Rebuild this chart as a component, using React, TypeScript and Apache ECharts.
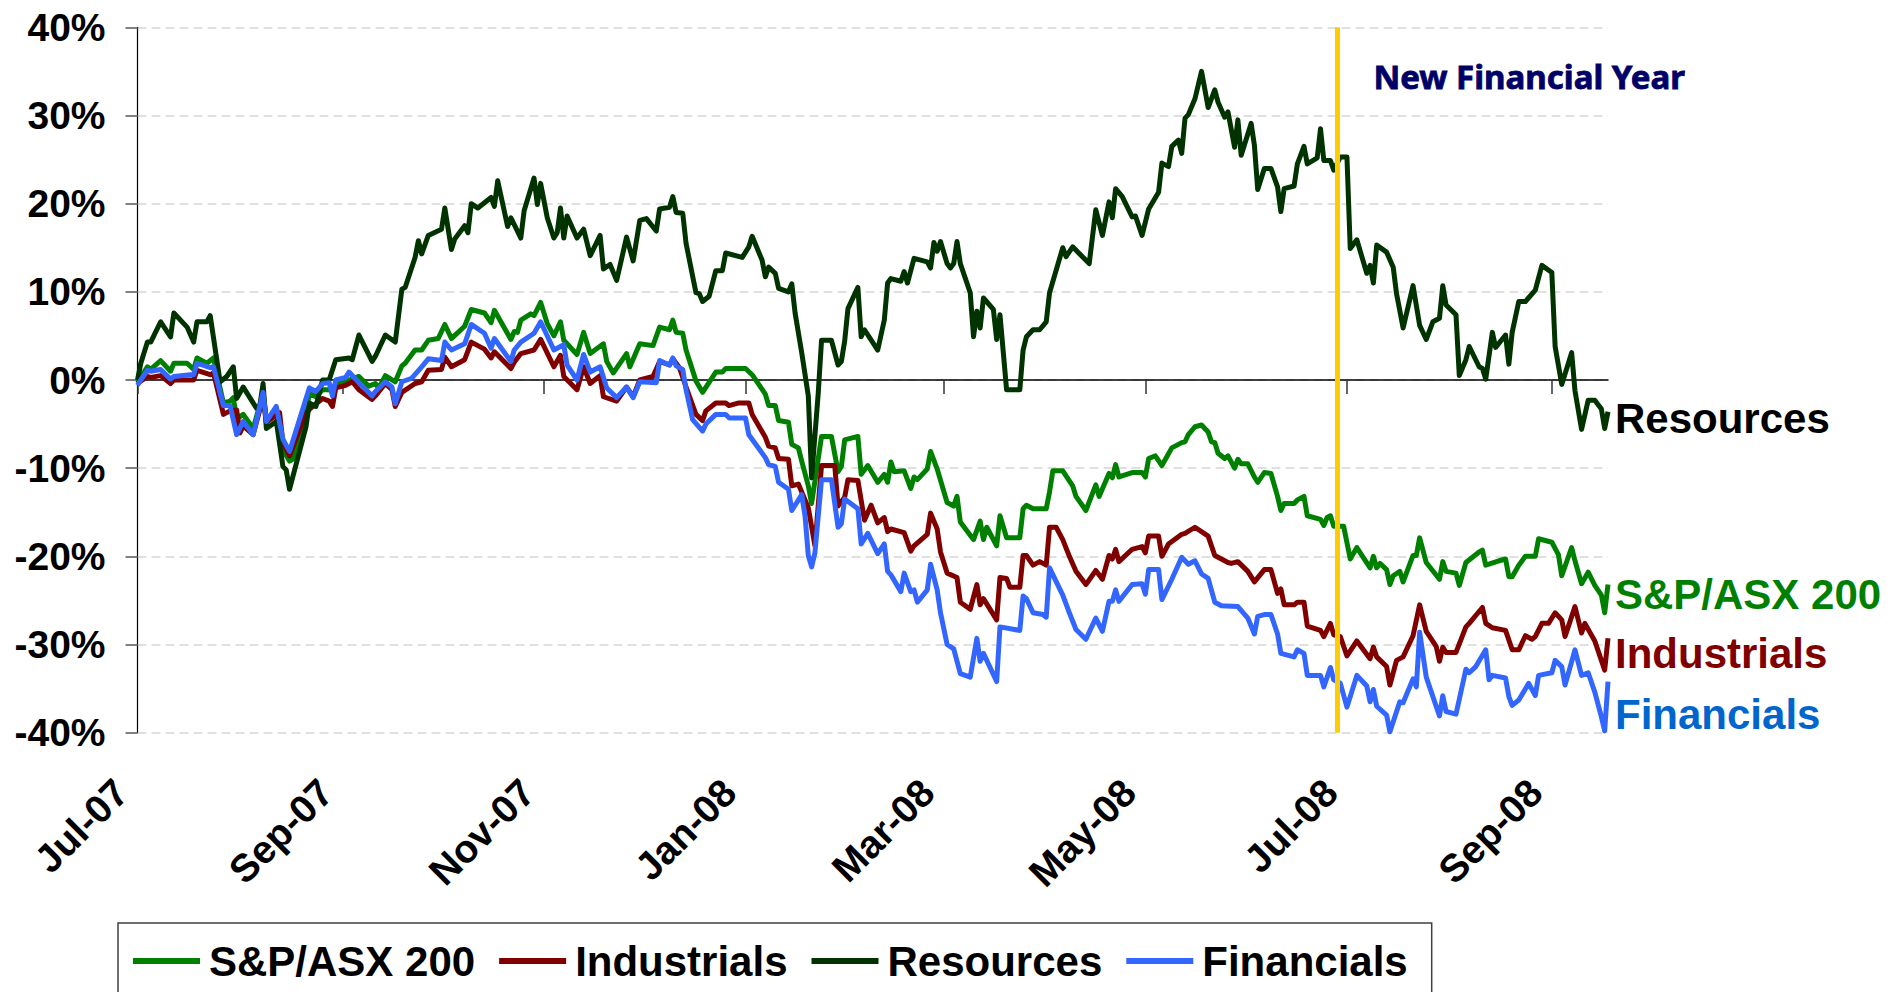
import React, { useEffect, useRef } from 'react';
import * as echarts from 'echarts';

// x values are calendar days counted from 1 Jul 2007
const tickDays = [0, 62, 123, 184, 244, 305, 366, 428];
const tickLabels = ['Jul-07', 'Sep-07', 'Nov-07', 'Jan-08', 'Mar-08', 'May-08', 'Jul-08', 'Sep-08'];
const lastDay = 445;
const newFinancialYearDay = 363;
const annotationText = 'New Financial Year';
const seriesNames = ['S&P/ASX 200', 'Industrials', 'Resources', 'Financials'];

// cumulative % change
const sp200: [number, number][] = [
  [0,-0.3],[3,1.5],[4,1.2],[7,2.2],[10,1.0],[11,1.9],[15,1.9],[17,1.2],[18,2.5],[21,1.9],[23,2.5],[26,-2.6],[28,-2.4],[29,-2.0],[30,-4.4],[32,-3.9],[35,-5.5],[38,-1.5],[39,-4.4],[42,-3.9],[44,-7.9],[46,-9.2],[47,-9.0],[51,-3.7],[52,-1.5],[54,-1.9],[56,-1.1],[58,-1.1],[59,-1.3],[60,-0.4],[64,0],[67,0.4],[70,-0.7],[72,-0.4],[73,-0.9],[75,0.5],[78,-0.2],[80,1.6],[81,1.9],[84,3.4],[86,3.4],[88,4.5],[91,4.7],[93,6.3],[95,4.7],[99,6.1],[101,8.0],[105,7.6],[107,6.5],[108,7.9],[113,4.6],[114,5.5],[115,5.4],[116,6.8],[119,7.5],[120,7.3],[122,8.8],[124,6.4],[126,5.0],[128,6.6],[129,4.5],[133,2.9],[135,5.4],[137,3.0],[141,4.1],[142,2.1],[144,0.8],[148,3.0],[149,1.5],[152,4.1],[156,3.9],[158,6.0],[161,5.7],[162,6.8],[163,5.4],[165,5.3],[166,3.4],[169,-0.1],[171,-1.4],[175,0.9],[177,0.9],[178,1.3],[184,1.3],[186,0.6],[190,-1.6],[191,-2.9],[193,-2.9],[194,-4.6],[197,-4.8],[198,-7.3],[200,-7.7],[201,-9.2],[203,-12.0],[204,-14.0],[207,-6.4],[210,-6.4],[212,-10.4],[213,-9.8],[214,-6.8],[218,-6.4],[219,-10.7],[221,-9.7],[224,-11.6],[226,-10.7],[227,-11.6],[228,-9.3],[229,-10.4],[232,-10.3],[233,-11.3],[234,-12.3],[235,-11.0],[236,-11.3],[239,-10.1],[240,-8.1],[242,-10.1],[245,-13.9],[247,-14.3],[248,-13.2],[249,-16.1],[252,-17.6],[253,-18.1],[255,-16.0],[256,-18.1],[257,-16.7],[260,-18.8],[261,-15.4],[263,-17.9],[267,-17.9],[268,-14.6],[269,-14.2],[271,-14.6],[275,-14.6],[276,-12.7],[277,-10.3],[280,-10.3],[283,-12.0],[284,-13.2],[287,-14.8],[290,-11.9],[291,-13.2],[294,-10.6],[295,-11.1],[296,-9.6],[297,-11.0],[301,-10.5],[304,-10.5],[305,-11.0],[306,-8.9],[308,-8.6],[310,-9.7],[313,-7.7],[316,-7.1],[317,-7.0],[318,-6.2],[320,-5.3],[322,-5.1],[324,-5.9],[325,-7.0],[326,-7.1],[327,-8.3],[329,-8.9],[330,-8.6],[332,-10.0],[333,-9.0],[334,-9.5],[336,-9.5],[338,-11.0],[339,-11.6],[341,-10.5],[343,-10.6],[345,-13.2],[346,-14.8],[347,-14.0],[350,-14.0],[351,-13.6],[353,-13.2],[354,-15.4],[358,-15.8],[359,-16.5],[360,-15.6],[361,-15.4],[362,-16.6],[365,-16.6],[367,-20.3],[369,-19.0],[373,-21.3],[374,-20.0],[375,-21.3],[376,-20.8],[378,-21.5],[379,-23.2],[380,-22.2],[382,-21.7],[383,-22.9],[386,-19.9],[387,-19.9],[388,-17.9],[390,-20.7],[394,-22.6],[395,-20.6],[396,-21.7],[399,-21.9],[400,-23.3],[402,-20.7],[406,-19.5],[407,-19.3],[408,-21.0],[412,-20.5],[414,-20.3],[415,-22.3],[416,-22.3],[418,-21.0],[420,-20.0],[423,-20.0],[424,-18.0],[428,-18.4],[430,-19.8],[431,-22.2],[434,-19.0],[435,-20.5],[437,-23.1],[439,-21.8],[441,-23.3],[443,-24.4],[444,-26.4],[445,-23.2]
];

const industrials: [number, number][] = [
  [0,-0.4],[3,0.4],[4,0.3],[7,0.5],[10,-0.4],[11,0],[17,0],[18,1.1],[22,0.6],[23,0.8],[26,-3.9],[28,-3.5],[30,-3.4],[31,-6.0],[32,-5.2],[35,-6.2],[38,-2.0],[39,-4.8],[43,-3.7],[44,-7.1],[46,-8.6],[51,-3.7],[53,-3.0],[56,-2.1],[58,-2.4],[59,-3.0],[60,-0.9],[63,-0.6],[65,-0.2],[67,-1.1],[71,-2.2],[72,-1.8],[75,-0.4],[77,-1.1],[78,-3.0],[80,-1.4],[84,-0.4],[86,-0.2],[88,1.1],[92,1.2],[93,2.6],[95,1.5],[99,2.3],[101,4.3],[105,3.5],[107,2.5],[108,3.2],[113,1.3],[114,2.0],[116,3.0],[120,3.4],[122,4.6],[126,1.5],[128,2.8],[129,0.4],[133,-1.1],[135,1.5],[137,-0.4],[140,0.5],[141,-1.9],[145,-2.4],[148,-0.8],[150,-1.9],[152,0],[156,0.4],[158,2.1],[161,1.7],[162,2.4],[164,1.4],[166,-0.8],[169,-3.9],[171,-4.6],[172,-3.5],[175,-2.6],[178,-2.6],[179,-2.9],[182,-2.6],[185,-2.6],[186,-3.9],[190,-6.5],[191,-7.5],[193,-7.7],[194,-8.9],[197,-9.0],[198,-12.0],[200,-11.8],[203,-14.5],[205,-18.8],[207,-9.7],[211,-9.7],[212,-14.3],[214,-13.3],[215,-11.3],[218,-11.4],[220,-15.9],[222,-14.2],[224,-16.2],[226,-15.6],[227,-17.2],[228,-16.9],[232,-17.3],[234,-19.4],[235,-18.8],[239,-17.5],[240,-15.1],[242,-16.9],[243,-19.5],[245,-21.9],[248,-22.4],[249,-25.2],[252,-26.0],[254,-23.2],[255,-25.5],[256,-24.8],[260,-27.2],[261,-22.4],[263,-22.5],[264,-23.5],[267,-23.5],[268,-19.9],[269,-19.9],[271,-21.0],[273,-20.6],[275,-21.0],[276,-16.7],[278,-16.7],[280,-18.1],[282,-20.0],[284,-21.7],[287,-23.2],[290,-21.6],[292,-22.6],[294,-19.9],[295,-20.3],[296,-19.2],[297,-20.6],[301,-19.2],[304,-18.9],[305,-19.6],[306,-17.7],[309,-17.7],[310,-20.0],[312,-18.6],[316,-17.5],[317,-17.4],[320,-16.7],[324,-17.7],[326,-19.9],[330,-20.7],[331,-20.8],[333,-20.6],[336,-21.7],[338,-22.9],[341,-21.5],[343,-21.5],[345,-24.2],[346,-23.7],[347,-25.5],[350,-25.5],[351,-25.2],[353,-25.2],[354,-27.9],[358,-28.4],[359,-29.1],[361,-27.6],[362,-28.9],[364,-29.1],[366,-31.3],[369,-29.6],[373,-31.6],[374,-30.3],[375,-31.4],[378,-32.5],[379,-34.6],[381,-31.8],[383,-31.4],[386,-29.0],[388,-25.5],[390,-28.5],[393,-30.2],[394,-31.9],[395,-30.3],[396,-30.9],[399,-30.9],[402,-28.0],[403,-27.6],[407,-25.8],[408,-27.6],[410,-28.1],[414,-28.4],[416,-30.6],[418,-30.6],[420,-29.0],[422,-29.4],[423,-29.1],[425,-27.6],[427,-27.6],[429,-26.4],[431,-27.2],[432,-29.1],[435,-25.7],[436,-27.2],[437,-28.7],[438,-27.6],[441,-29.6],[444,-32.9],[445,-29.3]
];

const resources: [number, number][] = [
  [0,0],[1,1.9],[3,4.3],[4,4.3],[7,6.6],[10,4.9],[11,7.6],[15,6.0],[17,4.3],[18,6.6],[21,6.6],[22,7.3],[25,-0.2],[27,0.4],[29,1.5],[30,-2.1],[32,-0.8],[36,-3.2],[37,-3.0],[38,-0.4],[39,-5.5],[42,-4.7],[44,-9.8],[45,-10.2],[46,-12.4],[51,-5.3],[52,-2.6],[54,-3.0],[56,0],[58,0],[60,2.3],[64,2.5],[65,2.3],[67,5.1],[71,2.1],[72,2.7],[75,5.1],[78,4.3],[80,10.3],[81,10.5],[84,13.9],[85,15.8],[86,14.3],[88,16.4],[92,17.1],[93,19.5],[95,14.8],[96,16.0],[99,17.5],[100,16.7],[101,20.0],[103,19.5],[107,20.7],[108,19.7],[109,22.6],[112,17.4],[113,18.4],[116,16.1],[117,19.2],[120,22.9],[121,19.9],[122,22.3],[124,18.4],[126,16.1],[127,16.7],[128,19.5],[129,16.1],[130,18.6],[133,16.1],[135,17.1],[137,14.1],[140,16.4],[141,12.6],[143,13.1],[145,11.3],[148,16.2],[150,13.5],[152,18.1],[154,18.3],[157,16.9],[158,19.4],[161,19.6],[162,20.8],[163,19.0],[165,18.9],[166,15.5],[169,9.9],[170,9.8],[171,8.9],[173,9.5],[175,12.4],[177,12.4],[178,14.4],[183,13.9],[185,15.1],[186,16.3],[189,13.6],[190,11.7],[191,12.8],[193,12.1],[194,10.4],[197,10.0],[198,10.9],[199,7.6],[201,3.1],[203,-1.8],[204,-11.1],[206,-1.5],[207,4.5],[210,4.5],[212,1.7],[213,2.1],[214,4.4],[215,8.1],[218,10.5],[219,4.9],[220,5.7],[224,3.4],[226,6.8],[227,11.0],[228,11.5],[231,11.2],[232,12.3],[233,11.0],[235,13.8],[239,13.4],[240,12.7],[241,15.6],[242,14.6],[243,15.7],[245,13.2],[246,12.7],[247,13.2],[248,15.7],[249,13.2],[252,9.9],[253,4.9],[254,7.8],[255,5.9],[256,9.3],[259,8.0],[260,4.6],[261,7.4],[263,-1.1],[267,-1.1],[268,3.4],[269,4.9],[271,5.7],[273,5.7],[275,6.6],[276,9.9],[280,15.0],[281,14.0],[283,15.1],[288,13.2],[290,19.3],[292,16.4],[294,20.2],[295,18.4],[296,21.7],[298,20.8],[301,18.5],[302,18.6],[304,16.4],[306,19.4],[309,21.3],[310,24.6],[312,24.2],[313,26.5],[315,27.2],[316,25.7],[317,29.7],[318,30.1],[320,31.9],[322,35.0],[324,30.9],[326,32.9],[327,31.5],[329,29.8],[330,30.4],[332,26.4],[333,29.5],[334,25.5],[337,29.1],[338,26.6],[339,21.6],[341,24.0],[343,24.0],[345,21.9],[346,19.1],[347,21.7],[350,22.0],[351,24.5],[353,26.5],[354,24.5],[357,25.2],[358,28.5],[359,24.9],[361,24.9],[362,23.8],[364,25.3],[366,25.3],[367,14.9],[369,15.9],[372,12.1],[373,13.0],[374,11.0],[375,15.3],[378,14.5],[380,12.8],[381,9.8],[383,5.9],[386,10.7],[388,6.2],[390,4.6],[392,6.6],[394,7.0],[395,10.7],[396,8.5],[399,7.4],[400,0.5],[402,2.3],[403,3.8],[406,1.5],[407,1.3],[408,0.1],[410,5.4],[411,3.7],[414,5.1],[415,1.8],[416,5.4],[418,8.9],[420,8.9],[423,10.2],[425,13.0],[428,12.2],[429,3.8],[431,-0.5],[434,3.1],[435,-1.2],[437,-5.6],[439,-2.3],[441,-2.3],[443,-3.3],[444,-5.5],[445,-3.6]
];

const financials: [number, number][] = [
  [0,-0.6],[1,0],[3,1.1],[4,1.0],[7,1.2],[10,0.1],[11,0.4],[16,0.6],[17,0.6],[18,1.9],[22,1.4],[23,1.5],[26,-2.9],[28,-2.9],[30,-6.2],[32,-4.7],[35,-6.2],[38,-1.4],[39,-4.7],[42,-3.0],[44,-6.7],[46,-8.1],[52,-0.9],[54,-1.3],[56,-0.4],[58,-0.3],[59,-1.8],[60,0],[63,0.3],[64,0.9],[67,-0.3],[71,-1.8],[72,-1.3],[75,-0.2],[77,-0.8],[78,-2.7],[80,-0.2],[83,0.2],[86,1.5],[88,2.4],[92,2.2],[93,4.3],[95,3.4],[99,4.1],[101,6.3],[105,5.3],[107,3.6],[108,4.7],[113,2.1],[114,3.4],[116,4.3],[120,5.3],[122,6.6],[126,3.4],[129,4.0],[130,1.7],[133,0],[135,2.9],[137,0.9],[140,1.5],[142,-0.9],[145,-2.0],[148,-0.8],[150,-2.0],[152,-0.2],[157,-0.3],[158,2.2],[161,1.7],[162,2.5],[163,1.6],[165,1.2],[166,-1.1],[168,-4.5],[171,-5.8],[172,-5.0],[175,-3.9],[178,-3.9],[179,-4.3],[184,-4.3],[185,-6.2],[190,-8.8],[191,-9.6],[193,-9.8],[194,-11.6],[197,-12.4],[198,-14.8],[201,-13.0],[202,-15.4],[203,-19.9],[204,-21.2],[205,-19.6],[207,-11.3],[210,-11.3],[212,-16.7],[213,-16.3],[214,-13.5],[218,-14.6],[219,-18.6],[221,-17.4],[224,-19.7],[226,-18.6],[227,-21.7],[228,-22.1],[231,-24.0],[232,-21.9],[234,-24.0],[235,-23.8],[236,-25.2],[239,-23.8],[240,-20.9],[242,-23.8],[243,-26.4],[245,-30.0],[247,-30.5],[249,-33.3],[252,-33.7],[254,-29.3],[255,-31.9],[256,-31.0],[260,-34.2],[261,-28.0],[267,-28.4],[268,-24.5],[269,-24.8],[271,-26.4],[274,-26.6],[275,-26.9],[276,-21.3],[280,-24.4],[282,-26.4],[284,-28.3],[287,-29.4],[290,-27.0],[292,-28.5],[294,-25.1],[295,-25.1],[296,-23.8],[297,-25.1],[301,-23.2],[304,-23.1],[305,-24.3],[306,-21.5],[309,-21.5],[310,-24.9],[313,-22.6],[316,-20.1],[318,-20.9],[320,-20.5],[322,-22.0],[324,-22.5],[326,-25.2],[328,-25.6],[333,-25.7],[336,-27.0],[338,-28.8],[339,-26.8],[341,-26.6],[343,-26.6],[345,-28.8],[346,-31.0],[350,-31.4],[351,-30.6],[353,-31.0],[354,-33.5],[358,-33.5],[359,-34.8],[361,-32.6],[362,-34.0],[364,-34.4],[366,-37.1],[369,-33.5],[372,-34.7],[373,-36.5],[374,-35.1],[375,-37.0],[378,-38.0],[379,-39.9],[382,-36.5],[383,-36.6],[386,-33.9],[387,-34.8],[388,-28.6],[390,-33.7],[394,-38.1],[395,-35.8],[396,-37.6],[399,-37.9],[402,-32.8],[403,-33.2],[405,-32.5],[408,-30.6],[409,-34.0],[410,-33.5],[414,-33.8],[415,-35.9],[416,-36.9],[418,-36.3],[421,-34.4],[423,-35.8],[424,-33.5],[428,-33.2],[429,-31.8],[431,-32.5],[432,-34.6],[435,-30.6],[437,-33.5],[439,-33.2],[441,-35.4],[443,-38.2],[444,-39.8],[445,-34.2]
];

const FONT = '"Liberation Sans", Arial, Helvetica, sans-serif';

export default function App() {
  const ref = useRef<HTMLDivElement>(null);

  useEffect(() => {
    if (!ref.current) return;
    const chart = echarts.init(ref.current, null, { renderer: 'svg' });

    const makeSeries = (
      name: string,
      data: [number, number][],
      color: string,
      labelColor: string,
      labelDy: number,
      extra: any = {}
    ) => ({
      name,
      type: 'line',
      data,
      xAxisIndex: 0,
      yAxisIndex: 0,
      symbol: 'none',
      showSymbol: false,
      lineStyle: { color, width: 5, join: 'round' },
      itemStyle: { color },
      emphasis: { disabled: true },
      endLabel: {
        show: true,
        formatter: '{a}',
        color: labelColor,
        fontSize: 42,
        fontWeight: 'bold',
        fontFamily: FONT,
        distance: 7,
        offset: [0, labelDy],
      },
      ...extra,
    });

    const labelFor = (v: number) => {
      const i = tickDays.indexOf(Math.round(v));
      return i >= 0 ? tickLabels[i] : '';
    };

    chart.setOption({
      animation: false,
      backgroundColor: '#ffffff',
      grid: {
        left: 137.5,
        right: 295,
        top: 27.3,
        bottom: 259.3,
        containLabel: false,
        outerBoundsMode: 'none',
      },
      legend: {
        data: seriesNames,
        left: 118,
        top: 923,
        orient: 'horizontal',
        padding: [17, 24, 40, 15],
        itemGap: 24,
        itemWidth: 67,
        itemHeight: 6,
        icon: 'rect',
        borderColor: '#404040',
        borderWidth: 1.5,
        selectedMode: false,
        textStyle: {
          fontSize: 42,
          fontWeight: 'bold',
          color: '#000000',
          fontFamily: FONT,
          padding: [0, 0, 0, 4],
        },
      },
      xAxis: [
        {
          type: 'value',
          min: 0,
          max: lastDay,
          position: 'bottom',
          axisLine: { show: true, onZero: true, lineStyle: { color: '#000000', width: 1.5 } },
          axisTick: {
            show: true,
            inside: false,
            length: 14,
            customValues: tickDays,
            lineStyle: { color: '#333333', width: 1.5 },
          },
          axisLabel: { show: false },
          splitLine: { show: false },
        },
        {
          type: 'value',
          min: 0,
          max: lastDay,
          position: 'bottom',
          axisLine: { show: false, onZero: false },
          axisTick: { show: false },
          splitLine: { show: false },
          axisLabel: {
            show: true,
            customValues: tickDays,
            formatter: labelFor,
            rotate: 45,
            margin: 37,
            padding: [0, 23, 0, 0],
            fontSize: 39,
            fontWeight: 'bold',
            color: '#000000',
            fontFamily: FONT,
          },
        },
      ],
      yAxis: {
        type: 'value',
        min: -40,
        max: 40,
        interval: 10,
        axisLine: { show: true, onZero: false, lineStyle: { color: '#000000', width: 1.2 } },
        axisTick: { show: true, inside: false, length: 12, lineStyle: { color: '#808080', width: 2 } },
        axisLabel: {
          formatter: (v: number) => `${v}%`,
          fontSize: 39,
          fontWeight: 'bold',
          color: '#000000',
          fontFamily: FONT,
          margin: 32,
        },
        splitLine: {
          show: true,
          lineStyle: { color: '#d6d6d6', width: 1.5, type: [9, 5] },
        },
      },
      graphic: [
        {
          type: 'text',
          left: 1373,
          top: 60,
          silent: true,
          style: {
            text: annotationText,
            fill: '#000066',
            font: 'bold 33px "Noto Sans", "DejaVu Sans", sans-serif',
            stroke: '#000066',
            lineWidth: 0.8,
          },
        },
      ],
      series: [
        makeSeries(seriesNames[0], sp200, '#008000', '#008000', 10),
        makeSeries(seriesNames[1], industrials, '#800000', '#800000', 15),
        makeSeries(seriesNames[2], resources, '#003300', '#000000', 7, {
          markLine: {
            silent: true,
            symbol: ['none', 'none'],
            label: { show: false },
            lineStyle: { color: '#FFCC00', width: 5, type: 'solid' },
            data: [{ xAxis: newFinancialYearDay }],
          },
        }),
        makeSeries(seriesNames[3], financials, '#3366FF', '#0066CC', 33),
      ],
    });

    return () => {
      chart.dispose();
    };
  }, []);

  return (
    <div
      ref={ref}
      style={{ position: 'absolute', left: 0, top: 0, width: 1903, height: 992, background: '#ffffff' }}
    />
  );
}
